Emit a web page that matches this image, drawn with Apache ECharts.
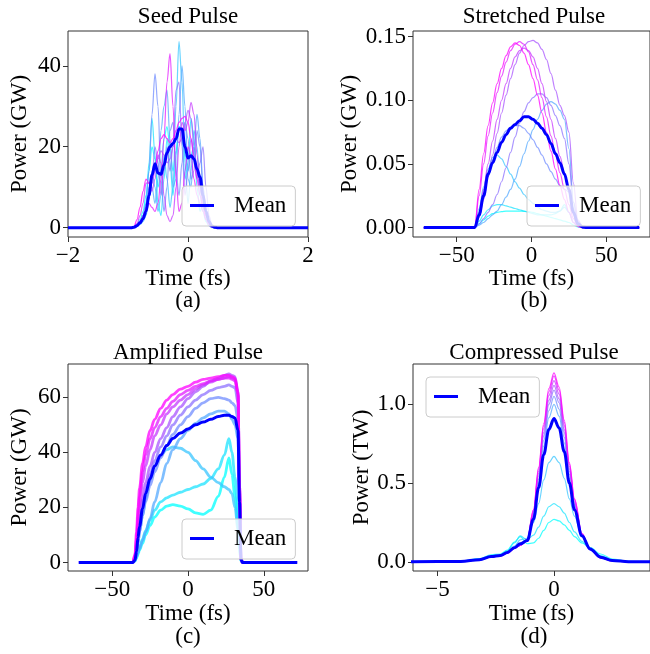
<!DOCTYPE html>
<html><head><meta charset="utf-8">
<script src="https://cdn.jsdelivr.net/npm/echarts@6/dist/echarts.min.js"></script>
<style>html,body{margin:0;padding:0;background:#fff}#c{width:650px;height:654px}</style>
</head><body><div id="c"></div>
<script>
// ---------- (a) Seed Pulse : time (fs) and power (GW) ----------
const timeA = [-2, -0.95, -0.9, -0.85, -0.8, -0.75, -0.7, -0.65, -0.6, -0.55, -0.5, -0.45, -0.4, -0.35, -0.3, -0.25, -0.2, -0.15, -0.1, -0.05, 0, 0.05, 0.1, 0.15, 0.2, 0.25, 0.3, 0.35, 0.4, 0.45, 0.5, 2];
const seedLines = [
  [0, 0, 0.2, 0.8, 2, 4, 8, 14, 20, 17, 10, 14, 22, 25, 20, 14, 19, 25, 24, 18, 14, 18, 20, 14, 8, 4, 1.5, 0.5, 0.1, 0, 0, 0],
  [0, 0, 0.1, 0.5, 1.5, 3, 6, 16, 27, 18, 6, 3, 12, 22, 16, 8, 18, 25, 22, 12, 16, 27, 22, 10, 4, 6, 3, 1, 0.2, 0, 0, 0],
  [0, 0, 0.1, 0.3, 0.8, 1.5, 3, 7, 14, 10, 4, 8, 18, 12, 5, 10, 30, 46, 36, 16, 6, 14, 24, 20, 10, 5, 2, 0.5, 0, 0, 0, 0],
  [0, 0, 0.1, 0.5, 1.2, 2.5, 5, 10, 10, 6, 12, 24, 30, 34, 22, 10, 12, 28, 40, 30, 12, 10, 20, 28, 22, 10, 3, 1, 0.2, 0, 0, 0],
  [0, 0, 0.2, 0.6, 1.5, 3, 6, 14, 28, 38, 30, 12, 4, 10, 24, 26, 14, 8, 16, 26, 22, 12, 14, 24, 20, 10, 4, 1, 0.2, 0, 0, 0],
  [0, 0, 0.1, 0.4, 1, 2, 4, 7, 12, 20, 16, 8, 14, 20, 14, 20, 34, 36, 20, 8, 14, 22, 18, 12, 16, 20, 10, 3, 0.5, 0, 0, 0],
  [0, 0, 0.2, 0.6, 1.5, 3, 5, 8, 11, 14, 17, 19, 18, 16, 17, 20, 22, 21, 22, 26, 29, 27, 20, 14, 10, 7, 4, 1.5, 0.5, 0.1, 0, 0],
  [0, 0, 0.2, 1, 3, 6, 11, 11, 9, 12, 18, 16, 8, 3, 1.5, 3, 10, 20, 26, 24, 26, 31, 28, 18, 10, 5, 2, 0.5, 0.1, 0, 0, 0],
  [0, 0, 0.1, 0.5, 1.2, 2.5, 4, 6, 5, 4, 6, 12, 22, 36, 43, 30, 12, 4, 6, 14, 20, 18, 12, 8, 6, 4, 2, 0.8, 0.2, 0, 0, 0],
  [0, 0, 0.3, 2, 5, 9, 12, 11, 12, 15, 19, 22, 23, 22, 21, 22, 24, 26, 27, 27.5, 26, 22, 17, 12, 8, 5, 3, 1.5, 0.5, 0.1, 0, 0]
];
const seedMean = [0, 0, 0.1, 0.5, 1.2, 2.2, 4, 8, 13, 15.8, 13.5, 13.2, 15.5, 18.5, 20, 20.8, 22, 24.4, 24.4, 20, 17.2, 17.8, 17, 14.5, 12.5, 8, 4, 1.5, 0.4, 0.1, 0, 0];

// ---------- (b) Stretched Pulse : power (GW) ----------
const timeB = [-72, -40, -38, -35, -32, -29, -26, -23, -20, -17, -14, -11, -8, -5, -2, 1, 4, 7, 10, 13, 16, 19, 22, 25, 28, 31, 34, 37, 72];
const stretchLines = [
  [0, 0, 0, 0.003, 0.006, 0.009, 0.011, 0.012, 0.0125, 0.013, 0.013, 0.013, 0.013, 0.0128, 0.0125, 0.012, 0.011, 0.01, 0.009, 0.008, 0.007, 0.006, 0.005, 0.004, 0.002, 0.0005, 0, 0, 0],
  [0, 0, 0, 0.005, 0.01, 0.014, 0.017, 0.018, 0.018, 0.017, 0.016, 0.015, 0.014, 0.013, 0.012, 0.011, 0.01, 0.01, 0.01, 0.01, 0.011, 0.013, 0.018, 0.012, 0.004, 0.001, 0, 0, 0],
  [0, 0, 0, 0.015, 0.032, 0.046, 0.055, 0.057, 0.054, 0.048, 0.042, 0.036, 0.031, 0.026, 0.022, 0.019, 0.016, 0.014, 0.013, 0.012, 0.012, 0.013, 0.016, 0.012, 0.004, 0.001, 0, 0, 0],
  [0, 0, 0, 0.002, 0.004, 0.007, 0.01, 0.013, 0.018, 0.024, 0.03, 0.038, 0.048, 0.058, 0.068, 0.077, 0.085, 0.092, 0.097, 0.099, 0.097, 0.092, 0.085, 0.062, 0.02, 0.004, 0.001, 0, 0],
  [0, 0, 0, 0.01, 0.025, 0.04, 0.053, 0.063, 0.071, 0.076, 0.079, 0.08, 0.08, 0.078, 0.074, 0.069, 0.063, 0.057, 0.05, 0.044, 0.038, 0.033, 0.03, 0.028, 0.015, 0.004, 0.001, 0, 0],
  [0, 0, 0, 0.003, 0.007, 0.012, 0.018, 0.026, 0.036, 0.047, 0.059, 0.071, 0.082, 0.091, 0.098, 0.102, 0.105, 0.105, 0.102, 0.096, 0.088, 0.08, 0.07, 0.05, 0.02, 0.005, 0.001, 0, 0],
  [0, 0, 0, 0.008, 0.022, 0.04, 0.057, 0.074, 0.09, 0.104, 0.117, 0.128, 0.137, 0.143, 0.146, 0.147, 0.145, 0.14, 0.132, 0.121, 0.108, 0.096, 0.088, 0.075, 0.035, 0.006, 0.001, 0, 0],
  [0, 0, 0, 0.012, 0.03, 0.05, 0.068, 0.085, 0.1, 0.113, 0.125, 0.134, 0.139, 0.141, 0.139, 0.134, 0.125, 0.113, 0.099, 0.085, 0.07, 0.056, 0.043, 0.028, 0.01, 0.002, 0, 0, 0],
  [0, 0, 0, 0.025, 0.05, 0.072, 0.09, 0.106, 0.119, 0.13, 0.139, 0.144, 0.146, 0.144, 0.138, 0.128, 0.116, 0.102, 0.087, 0.072, 0.057, 0.043, 0.03, 0.018, 0.007, 0.001, 0, 0, 0],
  [0, 0, 0, 0.03, 0.058, 0.08, 0.098, 0.113, 0.125, 0.135, 0.142, 0.145, 0.143, 0.137, 0.128, 0.117, 0.104, 0.09, 0.075, 0.06, 0.046, 0.033, 0.022, 0.012, 0.004, 0.001, 0, 0, 0]
];
const stretchMean = [0, 0, 0, 0.01, 0.025, 0.042, 0.051, 0.059, 0.067, 0.073, 0.078, 0.081, 0.084, 0.087, 0.087, 0.085, 0.082, 0.078, 0.073, 0.066, 0.058, 0.051, 0.042, 0.03, 0.012, 0.003, 0.0005, 0, 0];

// ---------- (c) Amplified Pulse : power (GW) ----------
const timeC = [-72, -36.5, -35, -34, -33, -32, -30, -28, -25, -22, -18, -14, -10, -5, 0, 5, 10, 15, 20, 24, 27, 29, 31, 33, 34, 35, 36, 72];
const ampLines = [
  [0, 0, 0.5, 1.5, 3, 4.5, 7, 10, 13.5, 16.5, 19, 20.5, 21, 20.5, 19.5, 18, 17.5, 19, 24, 31, 38, 32, 24, 13, 5, 0.5, 0, 0],
  [0, 0, 0.6, 2, 3.5, 5.5, 8.5, 11.5, 15.5, 19, 22, 23.5, 24.5, 25.5, 26.5, 27.5, 28.5, 30.5, 34, 39, 45, 40, 31, 18, 7, 0.5, 0, 0],
  [0, 0, 1, 3.5, 7, 11, 17, 23, 30, 35, 39, 41, 42, 41.5, 40, 37, 34, 31, 29, 27.5, 26.5, 25, 20, 12, 5, 0.5, 0, 0],
  [0, 0, 0.8, 2, 3.5, 5, 8, 11, 16, 22, 29, 36, 41, 45, 48, 50.5, 52.5, 54, 55, 55, 54, 52, 50, 45, 20, 0.8, 0, 0],
  [0, 0, 1, 3.5, 7, 11, 17, 22, 28, 33, 38, 42.5, 46.5, 50, 53, 56, 58, 59.5, 60, 59.5, 59, 58, 57, 52, 24, 1, 0, 0],
  [0, 0, 1.2, 4, 8, 13, 20, 26, 32, 37, 42, 46, 50, 53.5, 56.5, 59, 61, 62.5, 63.5, 64, 64.5, 64, 63.5, 58, 26, 1, 0, 0],
  [0, 0, 1.5, 5, 10, 15, 23, 29, 35, 40, 45, 49, 53, 56.5, 59.5, 62, 64, 66, 67, 68, 68.5, 68, 67.5, 62, 28, 1, 0, 0],
  [0, 0, 2, 7, 14, 20, 29, 35, 41, 46, 50, 54, 56.5, 59, 61, 63, 64.5, 65.5, 66.5, 67, 67.5, 67, 66.5, 61, 27, 1, 0, 0],
  [0, 0, 2.5, 9, 17, 24, 33, 39, 45, 49, 53, 56, 58.5, 61, 62.5, 64, 65, 66, 66.5, 67, 67, 66.5, 66, 61, 27, 1, 0, 0],
  [0, 0, 3, 11, 20, 27, 36, 42, 48, 52, 56, 59, 61, 63, 64, 65.5, 66.5, 67, 67.5, 68, 68, 67.5, 67, 62, 28, 1, 0, 0]
];
const ampMean = [0, 0, 0.8, 4, 9, 13, 19.5, 25, 30.5, 35, 39, 42.5, 45, 47, 48.5, 50, 51, 52, 53, 53.5, 53.5, 53, 52.5, 48, 22, 1, 0, 0];

// ---------- (d) Compressed Pulse : power (TW) ----------
const timeD = [-6.5, -4, -3.2, -2.7, -2.3, -2, -1.7, -1.45, -1.15, -0.88, -0.66, -0.44, -0.22, 0, 0.22, 0.44, 0.66, 0.88, 1.2, 1.55, 2.0, 2.5, 3.2, 4.5];
const compLines = [
  [0, 0.005, 0.02, 0.045, 0.05, 0.075, 0.125, 0.16, 0.115, 0.12, 0.15, 0.2, 0.25, 0.27, 0.26, 0.235, 0.2, 0.16, 0.12, 0.09, 0.05, 0.018, 0.003, 0],
  [0, 0.004, 0.018, 0.04, 0.045, 0.07, 0.12, 0.165, 0.14, 0.17, 0.22, 0.29, 0.35, 0.37, 0.35, 0.31, 0.25, 0.19, 0.13, 0.085, 0.04, 0.012, 0.002, 0],
  [0, 0.004, 0.015, 0.035, 0.04, 0.06, 0.1, 0.14, 0.15, 0.25, 0.37, 0.52, 0.63, 0.67, 0.63, 0.53, 0.4, 0.29, 0.16, 0.09, 0.035, 0.01, 0.001, 0],
  [0, 0.003, 0.013, 0.032, 0.04, 0.059, 0.09, 0.105, 0.13, 0.28, 0.5, 0.735, 0.915, 1.0, 0.925, 0.755, 0.53, 0.34, 0.16, 0.078, 0.028, 0.008, 0.001, 0],
  [0, 0.003, 0.013, 0.031, 0.039, 0.058, 0.088, 0.105, 0.135, 0.29, 0.525, 0.77, 0.96, 1.05, 0.97, 0.79, 0.555, 0.355, 0.165, 0.078, 0.028, 0.008, 0.001, 0],
  [0, 0.003, 0.012, 0.03, 0.039, 0.057, 0.087, 0.105, 0.135, 0.3, 0.545, 0.8, 1.0, 1.09, 1.01, 0.82, 0.575, 0.365, 0.168, 0.078, 0.027, 0.007, 0.001, 0],
  [0, 0.003, 0.012, 0.03, 0.038, 0.056, 0.086, 0.105, 0.14, 0.31, 0.56, 0.82, 1.025, 1.12, 1.035, 0.84, 0.59, 0.375, 0.17, 0.078, 0.026, 0.007, 0.001, 0],
  [0, 0.003, 0.012, 0.03, 0.038, 0.055, 0.085, 0.105, 0.14, 0.32, 0.575, 0.845, 1.055, 1.15, 1.065, 0.865, 0.605, 0.385, 0.175, 0.08, 0.026, 0.007, 0.001, 0],
  [0, 0.003, 0.012, 0.03, 0.038, 0.055, 0.085, 0.105, 0.14, 0.33, 0.59, 0.865, 1.08, 1.18, 1.09, 0.885, 0.62, 0.395, 0.18, 0.08, 0.025, 0.006, 0.001, 0],
  [0, 0.003, 0.012, 0.03, 0.038, 0.055, 0.085, 0.105, 0.14, 0.33, 0.6, 0.88, 1.1, 1.2, 1.11, 0.9, 0.63, 0.4, 0.18, 0.08, 0.025, 0.006, 0.001, 0]
];
const compMean = [0, 0.003, 0.014, 0.034, 0.041, 0.06, 0.09, 0.115, 0.135, 0.27, 0.47, 0.68, 0.84, 0.91, 0.85, 0.7, 0.5, 0.33, 0.165, 0.082, 0.03, 0.009, 0.001, 0];

// ---------- tick labels ----------
const ticksAx = [-2, 0, 2],   ticksAy = [0, 20, 40];
const ticksBx = [-50, 0, 50], ticksBy = [0, 0.05, 0.10, 0.15];
const ticksCx = [-50, 0, 50], ticksCy = [0, 20, 40, 60];
const ticksDx = [-5, 0],      ticksDy = [0, 0.5, 1.0];

const titles = ['Seed Pulse', 'Stretched Pulse', 'Amplified Pulse', 'Compressed Pulse'];
const tags = ['(a)', '(b)', '(c)', '(d)'];
const yNames = ['Power (GW)', 'Power (GW)', 'Power (GW)', 'Power (TW)'];

// ---------- layout / style ----------
const FONT = 'Liberation Serif, Times New Roman, serif';
const FS = 23;
const grids = [
  {left: 68, top: 31, width: 240, height: 206},
  {left: 413, top: 31, width: 242, height: 206},
  {left: 68, top: 364, width: 240, height: 207},
  {left: 413, top: 364, width: 242, height: 207}
];
const xr = [[-2, 2], [-79.2, 79.2], [-79.2, 79.2], [-6.05, 4.12]];
const yr = [[-2.3, 48.6], [-0.0074, 0.1544], [-3.1, 72.1], [-0.058, 1.256]];
const xt = [ticksAx, ticksBx, ticksCx, ticksDx];
const yt = [ticksAy, ticksBy, ticksCy, ticksDy];
const yFmt = [v => String(v), v => v.toFixed(2), v => String(v), v => v.toFixed(1)];
const xNameGap = [27, 27, 31, 31];
const yNameGap = [37, 52, 37, 40];
const panelCenters = [[188, 17, 301], [534, 17, 301], [188, 353, 637], [534, 353, 637]];
const legendPos = [[182, 186], [527, 186], [182, 519], [426, 377]];
const lineW = [1.2, 1.2, 2.8, 1.2];

const minus = s => String(s).replace('-', '\u2212');
const cool = i => { const r = Math.round(255 * i / 9); return `rgb(${r},${255 - r},255)`; };
const pairs = (t, v) => t.map((x, k) => [x, v[k]]);
const txt = {fontFamily: FONT, fontSize: FS, color: '#000', fontWeight: 'normal'};

const panels = [
  {t: timeA, lines: seedLines, mean: seedMean},
  {t: timeB, lines: stretchLines, mean: stretchMean},
  {t: timeC, lines: ampLines, mean: ampMean},
  {t: timeD, lines: compLines, mean: compMean}
];

const series = [];
panels.forEach((p, g) => {
  p.lines.forEach((v, i) => {
    series.push({
      type: 'line', name: 'shot' + i, xAxisIndex: g, yAxisIndex: g,
      data: pairs(p.t, v), showSymbol: false, symbol: 'none',
      smooth: 0.35, smoothMonotone: 'x', silent: true, z: 2,
      lineStyle: {width: lineW[g], color: cool(i), opacity: 0.75}
    });
  });
  series.push({
    type: 'line', name: 'Mean', xAxisIndex: g, yAxisIndex: g,
    data: pairs(p.t, p.mean), showSymbol: false, symbol: 'none',
    smooth: 0.35, smoothMonotone: 'x', silent: true, z: 3,
    itemStyle: {color: '#0000ff'},
    lineStyle: {width: 3, color: '#0000ff'}
  });
});

const option = {
  animation: false,
  backgroundColor: '#fff',
  title: [
    ...titles.map((s, g) => ({text: s, left: panelCenters[g][0], top: panelCenters[g][1], textAlign: 'center', textVerticalAlign: 'middle', padding: 0, textStyle: txt})),
    ...tags.map((s, g) => ({text: s, left: panelCenters[g][0], top: panelCenters[g][2], textAlign: 'center', textVerticalAlign: 'middle', padding: 0, textStyle: txt}))
  ],
  grid: grids.map(r => Object.assign({show: true, borderColor: '#333', borderWidth: 1, backgroundColor: 'transparent', containLabel: false}, r)),
  xAxis: grids.map((r, g) => ({
    type: 'value', gridIndex: g, min: xr[g][0], max: xr[g][1],
    name: 'Time (fs)', nameLocation: 'middle', nameGap: xNameGap[g], nameTextStyle: txt,
    axisLine: {show: false, onZero: false},
    axisTick: {show: true, inside: false, length: 5, lineStyle: {color: '#333', width: 1}, customValues: xt[g]},
    axisLabel: {customValues: xt[g], margin: 7, formatter: v => minus(v), fontFamily: FONT, fontSize: FS, color: '#000'},
    splitLine: {show: false}
  })),
  yAxis: grids.map((r, g) => ({
    type: 'value', gridIndex: g, min: yr[g][0], max: yr[g][1],
    name: yNames[g], nameLocation: 'middle', nameGap: yNameGap[g], nameTextStyle: txt,
    axisLine: {show: false, onZero: false},
    axisTick: {show: true, inside: false, length: 5, lineStyle: {color: '#333', width: 1}, customValues: yt[g]},
    axisLabel: {customValues: yt[g], margin: 7, formatter: v => minus(yFmt[g](v)), fontFamily: FONT, fontSize: FS, color: '#000'},
    splitLine: {show: false}
  })),
  legend: legendPos.map(([l, t]) => ({
    data: ['Mean'], left: l, top: t, icon: 'rect', itemWidth: 24, itemHeight: 3,
    padding: [8, 9, 9, 8], backgroundColor: 'rgba(255,255,255,0.8)',
    borderColor: '#cccccc', borderWidth: 1, borderRadius: 4, selectedMode: false,
    itemStyle: {color: '#0000ff'},
    textStyle: {fontFamily: FONT, fontSize: FS, color: '#000', padding: [0, 0, 0, 15]}
  })),
  series
};

const chart = echarts.init(document.getElementById('c'), null, {renderer: 'canvas'});
chart.setOption(option);
</script>
</body></html>
